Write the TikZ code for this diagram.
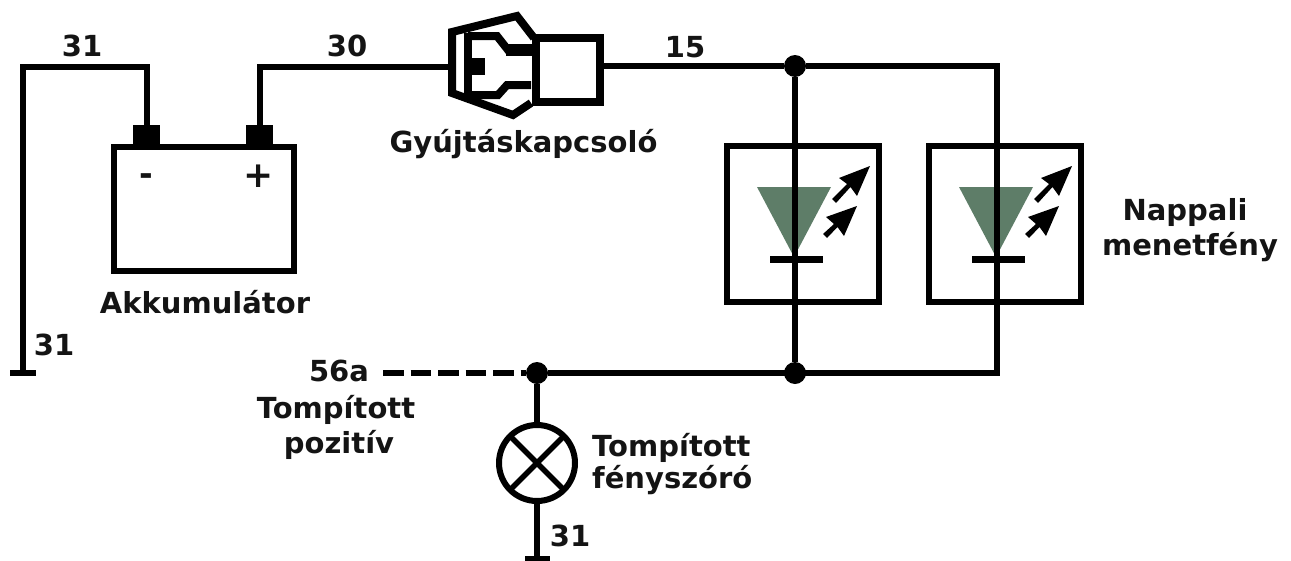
\documentclass[tikz,border=0pt]{standalone}
\usepackage{fontspec}
\setmainfont{DejaVu Sans}[BoldFont={DejaVu Sans Bold}]
\definecolor{ledgreen}{HTML}{5E7D68}
\tikzset{
  wire/.style={line width=6pt,line join=miter},
  dashwire/.style={line width=6pt,dash pattern=on 20.5pt off 7pt},
  boxn/.style={draw,line width=6pt,outer sep=0pt,inner sep=0pt},
  swline/.style={line width=8pt,line join=miter},
  term/.style={fill=black,inner sep=0pt,outer sep=0pt,minimum width=27pt,minimum height=23pt},
  dot/.style={circle,fill=black,inner sep=0pt,outer sep=0pt,minimum size=22pt},
  gbar/.style={line width=6pt},
  lbl/.style={font=\fontsize{29}{36}\selectfont\bfseries,inner sep=0pt,anchor=base,text=black!92},
  ledfill/.style={fill=ledgreen},
  ledbar/.style={line width=7pt},
  ray/.style={fill=black},
}
\begin{document}
\begin{tikzpicture}[x=1pt,y=-1pt]
\useasboundingbox (0,0) rectangle (1291,560);
% battery
\node[boxn,minimum width=180pt,minimum height=124pt] (batt) at (204,209) {};
\node[term] (tneg) at (146.5,136) {};
\node[term] (tpos) at (259.5,136) {};
% LED boxes
\foreach \n/\dx in {a/0,b/202}{
  \begin{scope}[xshift=\dx pt]
    \node[boxn,minimum width=152pt,minimum height=156pt] (led\n) at (803,224) {};
    \fill[ledfill] (757,187) -- (831,187) -- (794,257) -- cycle;
    \draw[ledbar] (770,259.5) -- (823,259.5);
    \fill[ray] (870,166) -- (857,196) -- (850.5,187) -- (836,203) -- (832,199) -- (847,184) -- (839,178) -- cycle;
    \fill[ray] (857,206) -- (844,236) -- (837.5,227) -- (827,238) -- (823,234) -- (834,224) -- (826,217) -- cycle;
  \end{scope}
}
% ignition switch
\node[draw,line width=8pt,outer sep=0pt,inner sep=0pt,minimum width=64pt,minimum height=64pt] (sw) at (567.5,69.5) {};
\draw[swline] (534,38) -- (517,16) -- (452,32) -- (452,93) -- (513,115) -- (531,103);
\draw[swline] (468,33) -- (468,97);
\draw[swline] (468,36) -- (497,36) -- (508,50) -- (533,50);
\draw[swline] (468,95) -- (498,95) -- (507,85) -- (531,85);
\fill (506,44) rectangle (533,56);
\fill (468,58) rectangle (485,75);
% nodes of the network
\node[dot] (jt) at (795,66) {};
\node[dot] (jb) at (795,373) {};
\node[dot] (jl) at (537,373) {};
\coordinate (jr) at (997,373);
\coordinate (swl) at (449,67);
\coordinate (gl) at (23,373);
\coordinate (gb) at (537,559);
\coordinate (ds) at (383,373);
\node[circle,draw,line width=6pt,fill=white,inner sep=0pt,outer sep=0pt,minimum size=76pt] (lamp) at (537,463) {};
% connectors
\draw[wire] (tneg.north) |- (gl |- swl) -- (gl);
\draw[wire] (tpos.north) |- (swl);
\draw[wire] (sw.east |- jt) -- (jt);
\draw[wire] (jt) -| (jr) -- (jl);
\draw[wire] (jt) -- (jb);
\draw[wire] (jl) -- (lamp.north);
\draw[wire] (lamp.south) -- (gb);
\draw[dashwire] (ds) -- (jl);
\draw[line width=5.5pt] (lamp.45) -- (lamp.225) (lamp.135) -- (lamp.315);
\draw[gbar] (10,373) -- (36,373);
\draw[gbar] (525,559) -- (550,559);
% labels
\node[lbl] (l31a) at (82,56) {31};
\node[lbl] (l30) at (347,56) {30};
\node[lbl] (l15) at (685,57) {15};
\node[lbl] (lgy) at (523.5,152) {Gyújtáskapcsoló};
\node[lbl,font=\fontsize{33}{36}\selectfont\bfseries] (lmi) at (146,185) {-};
\node[lbl,font=\fontsize{36}{36}\selectfont\bfseries] (lpl) at (258.5,187) {+};
\node[lbl] (lak) at (205,313) {Akkumulátor};
\node[lbl] (l31b) at (54,355) {31};
\node[lbl] (l56) at (339,381) {56a};
\node[lbl] (lto) at (336,418) {Tompított};
\node[lbl] (lpo) at (339,453) {pozitív};
\node[lbl,anchor=base west] (ltf) at (592,456) {Tompított};
\node[lbl,anchor=base west] (lfe) at (592,488) {fényszóró};
\node[lbl] (l31c) at (570,546) {31};
\node[lbl] (lna) at (1185,220) {Nappali};
\node[lbl] (lme) at (1190,255) {menetfény};
\end{tikzpicture}
\end{document}
